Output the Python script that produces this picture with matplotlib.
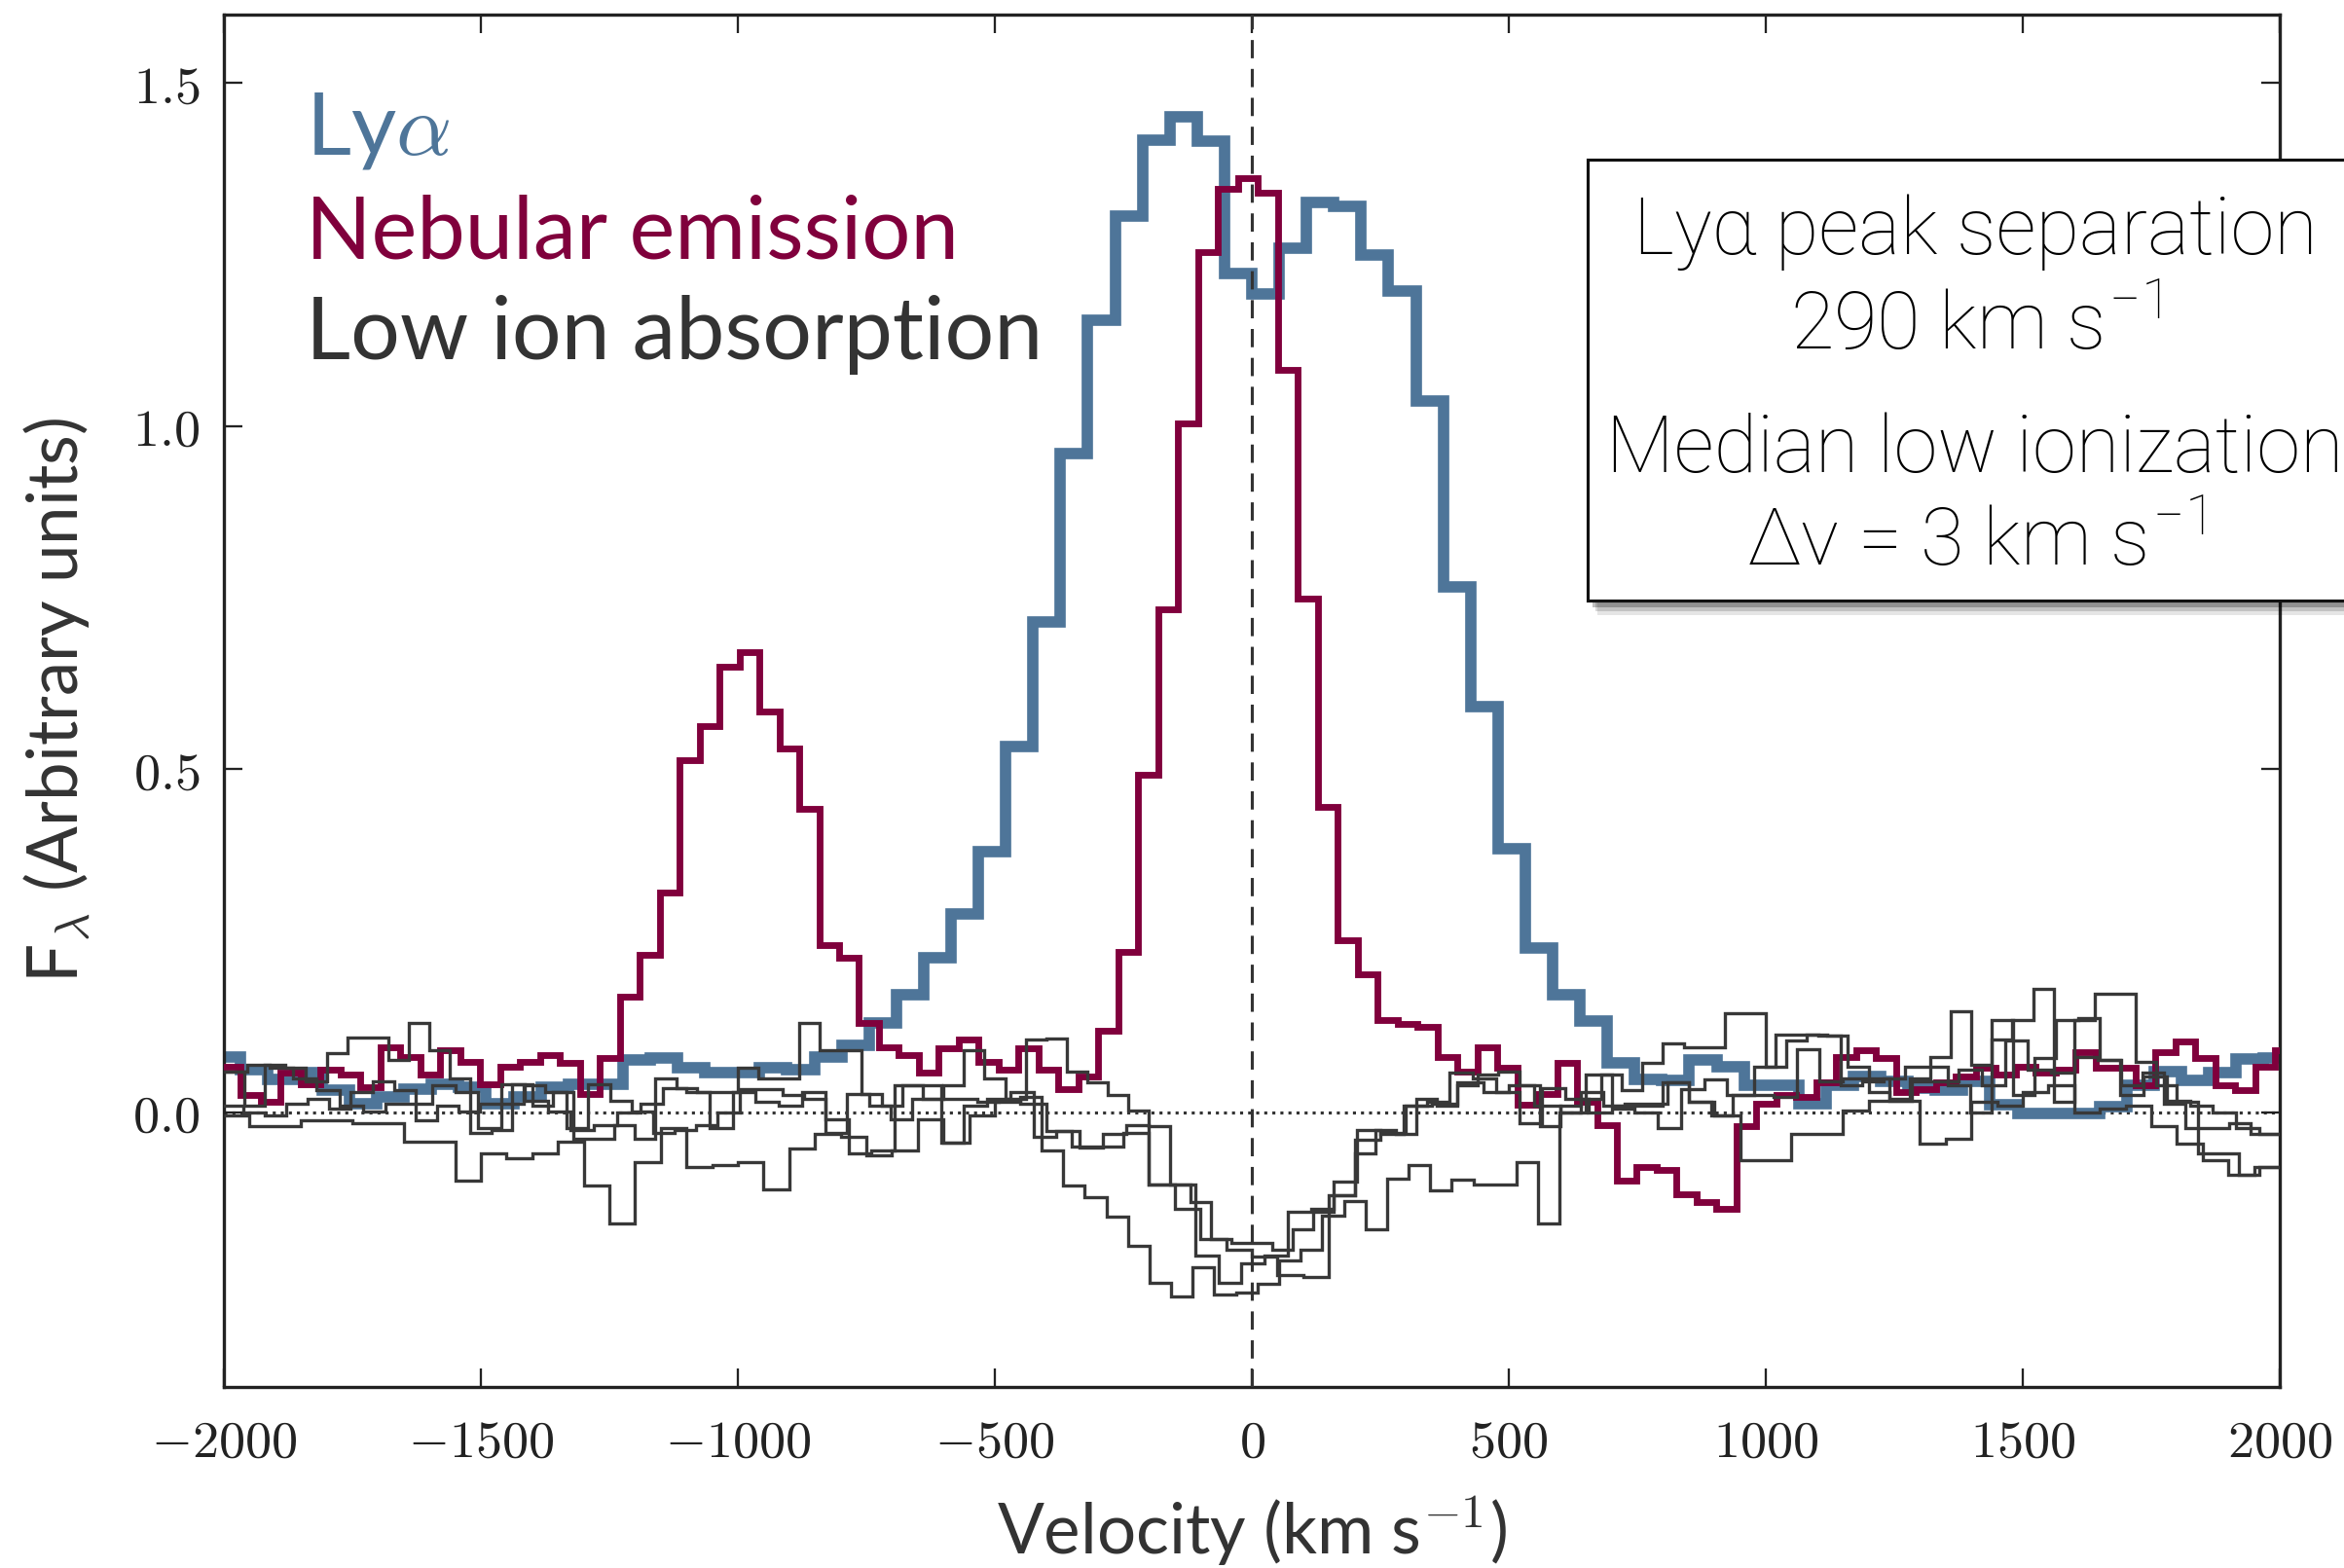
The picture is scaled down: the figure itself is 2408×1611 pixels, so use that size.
import numpy as np
import matplotlib as mat
mat.use('Agg')
import matplotlib.pyplot as plt
from matplotlib.patches import Rectangle
from matplotlib.ticker import FuncFormatter

# Ly-alpha profile (bins of constant width in km/s)
ly_v0, ly_dv = -2021.6, 53.2
ly_flux = [0.081, 0.062, 0.048, 0.058, 0.032, 0.013, 0.023, 0.034, 0.041, 0.037,
           0.013, 0.023, 0.037, 0.041, 0.041, 0.077, 0.080, 0.065, 0.058, 0.058,
           0.065, 0.062, 0.081, 0.098, 0.131, 0.171, 0.226, 0.289, 0.380, 0.533,
           0.715, 0.960, 1.155, 1.306, 1.417, 1.451, 1.415, 1.223, 1.193, 1.259,
           1.326, 1.320, 1.249, 1.197, 1.037, 0.766, 0.591, 0.385, 0.239, 0.171,
           0.133, 0.072, 0.048, 0.047, 0.077, 0.067, 0.039, 0.039, 0.013, 0.040,
           0.053, 0.045, 0.035, 0.032, 0.045, 0.011, -0.001, -0.002, -0.001, 0.009,
           0.039, 0.060, 0.047, 0.058, 0.078, 0.080]

# nebular emission
neb_v0, neb_dv = -2005.8, 38.8
neb_flux = [0.067, 0.025, 0.015, 0.058, 0.041, 0.062, 0.055, 0.037, 0.095, 0.081,
            0.055, 0.091, 0.074, 0.041, 0.067, 0.074, 0.084, 0.072, 0.027, 0.079,
            0.169, 0.230, 0.320, 0.513, 0.563, 0.650, 0.671, 0.584, 0.530, 0.442,
            0.244, 0.225, 0.131, 0.095, 0.084, 0.058, 0.093, 0.107, 0.074, 0.062,
            0.093, 0.062, 0.034, 0.053, 0.119, 0.234, 0.492, 0.733, 1.004, 1.254,
            1.346, 1.362, 1.341, 1.082, 0.749, 0.445, 0.251, 0.202, 0.134, 0.129,
            0.125, 0.081, 0.060, 0.095, 0.065, 0.011, 0.027, 0.072, 0.015, -0.018,
            -0.100, -0.079, -0.084, -0.119, -0.131, -0.140, -0.020, 0.013, 0.025, 0.022,
            0.044, 0.081, 0.091, 0.079, 0.029, 0.034, 0.044, 0.053, 0.065, 0.055,
            0.067, 0.058, 0.062, 0.088, 0.065, 0.065, 0.039, 0.088, 0.103, 0.079,
            0.039, 0.032, 0.067, 0.090]

# low ionization absorption lines
ion1_v0, ion1_dv = -2000.0, 50.0
ion1_flux = [-0.004, -0.020, -0.020, -0.011, -0.011, -0.016, -0.016, -0.042, -0.042, -0.100,
             -0.060, -0.067, -0.060, -0.042, -0.107, -0.162, -0.072, -0.023, -0.079, -0.077,
             -0.072, -0.112, -0.053, -0.032, -0.035, -0.063, -0.056, -0.010, -0.044, -0.005,
             0.015, 0.012, -0.027, -0.050, -0.050, -0.030, -0.105, -0.140, -0.185, -0.200,
             -0.210, -0.237, -0.240, -0.120, -0.040, -0.030, 0.010, 0.012, 0.044, 0.030,
             0.040, 0.010, 0.000, 0.055, 0.010, 0.010, 0.044, 0.015, -0.004, -0.070,
             -0.070, -0.032, -0.032, 0.003, 0.017, 0.017, -0.046, -0.039, 0.015, 0.010,
             0.030, 0.040, 0.000, 0.006, 0.010, -0.020, -0.045, -0.070, -0.091, -0.080]

ion2_v0, ion2_dv = -2005.0, 42.0
ion2_flux = [0.010, 0.000, -0.005, 0.012, 0.020, 0.005, 0.030, 0.045, 0.032, -0.011,
             0.010, 0.001, 0.012, 0.012, 0.039, 0.030, -0.023, 0.041, 0.017, 0.001,
             -0.030, -0.025, -0.018, 0.000, 0.034, 0.034, 0.025, 0.020, -0.030, 0.027,
             0.010, -0.010, 0.020, 0.020, 0.020, 0.015, 0.017, 0.022, -0.055, -0.107,
             -0.124, -0.152, -0.195, -0.249, -0.268, -0.225, -0.266, -0.263, -0.250, -0.215,
             -0.200, -0.150, -0.129, -0.171, -0.096, -0.077, -0.114, -0.098, -0.105, -0.105,
             -0.072, -0.162, 0.000, 0.030, 0.010, 0.013, 0.013, 0.044, 0.015, -0.004,
             0.025, 0.067, 0.114, 0.114, 0.112, 0.040, 0.045, 0.050, 0.067, 0.067,
             0.040, 0.000, 0.135, 0.025, 0.080, 0.135, 0.138, 0.076, 0.039, 0.058,
             0.013, -0.023, -0.023, -0.016, -0.032, -0.032]

ion3_v0, ion3_dv = -2000.0, 45.0
ion3_flux = [0.060, 0.069, 0.065, 0.050, 0.032, 0.010, 0.001, 0.012, 0.012, 0.039,
             0.030, -0.023, 0.041, 0.017, 0.001, -0.025, -0.018, 0.000, 0.012, 0.036,
             0.029, -0.023, 0.030, 0.015, 0.010, 0.030, -0.010, -0.060, -0.056, 0.039,
             0.039, -0.044, 0.010, 0.020, 0.030, -0.035, -0.027, -0.051, -0.032, -0.018,
             -0.105, -0.105, -0.209, -0.249, -0.220, -0.209, -0.145, -0.140, -0.101, -0.025,
             -0.032, 0.010, 0.015, 0.058, 0.050, 0.030, -0.016, 0.036, 0.020, 0.000,
             0.005, 0.000, -0.023, 0.034, 0.048, 0.025, 0.025, 0.022, 0.092, 0.045,
             0.050, 0.050, 0.017, 0.045, 0.045, 0.062, 0.040, 0.105, 0.062, 0.058,
             0.081, 0.076, 0.025, 0.053, 0.017, 0.010, 0.000, -0.023, -0.032]

ion4_v0, ion4_dv = -2000.0, 40.0
ion4_flux = [0.060, 0.010, 0.070, 0.065, 0.045, 0.086, 0.109, 0.109, 0.076, 0.131,
             0.091, 0.050, -0.030, -0.025, 0.041, 0.010, 0.029, -0.039, -0.039, -0.018,
             -0.039, 0.050, 0.036, 0.029, 0.029, 0.065, 0.050, 0.050, 0.131, 0.091,
             0.091, 0.027, 0.010, 0.039, 0.020, 0.039, 0.091, 0.050, 0.020, 0.107,
             0.108, 0.060, 0.044, 0.025, 0.003, -0.020, -0.105, -0.130, -0.185, -0.190,
             -0.190, -0.200, -0.170, -0.145, -0.120, -0.060, -0.025, -0.032, 0.020, 0.010,
             0.040, 0.055, 0.060, 0.040, -0.020, 0.010, 0.020, 0.055, 0.032, 0.072,
             0.100, 0.095, 0.095, 0.145, 0.145, 0.067, 0.105, 0.114, 0.112, 0.067,
             0.030, 0.020, 0.050, 0.081, 0.147, 0.070, 0.107, 0.135, 0.180, 0.015,
             0.135, 0.173, 0.173, 0.073, 0.040, 0.015, -0.060, -0.060, -0.091, -0.080]

absorption = [(ion1_v0, ion1_dv, ion1_flux), (ion2_v0, ion2_dv, ion2_flux),
              (ion3_v0, ion3_dv, ion3_flux), (ion4_v0, ion4_dv, ion4_flux)]

xticks = [-2000, -1500, -1000, -500, 0, 500, 1000, 1500, 2000]
yticks = [0.0, 0.5, 1.0, 1.5]

lya_col = '#4e7599'
neb_col = '#80003c'
ion_col = '#383838'


def edges(v0, dv, flux):
    return v0 + dv * np.arange(len(flux) + 1)


def main():
    plt.rcParams['mathtext.fontset'] = 'cm'
    plt.rcParams['font.family'] = ['Lato', 'DejaVu Sans']

    fig = plt.figure(figsize=(2408 / 150, 1611 / 150), dpi=150)
    ax = fig.add_axes([0.0955, 0.1155, 0.8771, 0.8752])

    ax.stairs(ly_flux, edges(ly_v0, ly_dv, ly_flux), baseline=None,
              color=lya_col, lw=5.6, zorder=2)
    ax.stairs(neb_flux, edges(neb_v0, neb_dv, neb_flux), baseline=None,
              color=neb_col, lw=3.3, zorder=3)
    for v0, dv, flux in absorption:
        ax.stairs(flux, edges(v0, dv, flux), baseline=None,
                  color=ion_col, lw=1.6, zorder=4)

    ax.axvline(0, color='#333333', lw=1.5, dashes=(6, 3.5), zorder=5)
    ax.axhline(0, color='#333333', lw=1.5, ls=':', zorder=1)

    ax.set_xlim(-2000, 2000)
    ax.set_ylim(-0.4, 1.6)
    ax.set_xticks(xticks)
    ax.set_yticks(yticks)
    ax.xaxis.set_major_formatter(FuncFormatter(lambda v, p: '$%d$' % v))
    ax.yaxis.set_major_formatter(FuncFormatter(lambda v, p: '$%.1f$' % v))
    ax.tick_params(direction='in', top=True, right=True, length=9, width=1.1,
                   labelsize=26, colors='#222222')
    ax.tick_params(axis='x', pad=15)
    ax.tick_params(axis='y', pad=12)
    for s in ax.spines.values():
        s.set_linewidth(1.6)
        s.set_color('#222222')

    ax.set_xlabel('Velocity (km s$^{-1}$)', fontsize=34, color='#333333', labelpad=14)
    ax.set_ylabel(r'F$_\lambda$ (Arbitrary units)', fontsize=34, color='#333333', labelpad=20)

    # coloured legend text
    ax.text(0.04, 0.898, r'Ly$\alpha$', transform=ax.transAxes, fontsize=43,
            color=lya_col, va='baseline')
    ax.text(0.04, 0.822, 'Nebular emission', transform=ax.transAxes, fontsize=42.5,
            color=neb_col, va='baseline')
    ax.text(0.04, 0.749, 'Low ion absorption', transform=ax.transAxes, fontsize=43,
            color='#333333', va='baseline')

    # annotation box with shadow, sticking out past the right edge
    bx, by, bw, bh = 0.6773, 0.617, 0.36, 0.281
    for off, a in [(0.006, 0.10), (0.0045, 0.15), (0.003, 0.25)]:
        fig.patches.append(Rectangle((bx + off * 0.7, by - off * 1.5), bw, bh,
                                     transform=fig.transFigure, facecolor='#000000',
                                     edgecolor='none', alpha=a, zorder=8))
    fig.patches.append(Rectangle((bx, by), bw, bh, transform=fig.transFigure,
                                 facecolor='white', edgecolor='#111111', lw=1.5, zorder=9))
    box_lines = ['Lyα peak separation', '290 km s$^{\\mathregular{-1}}$',
                 'Median low ionization', 'Δv = 3 km s$^{\\mathregular{-1}}$']
    box_y = [0.852, 0.791, 0.713, 0.653]
    for t, y in zip(box_lines, box_y):
        fig.text(0.8426, y, t, ha='center', va='center', fontsize=39,
                 family=['Roboto', 'DejaVu Sans'], fontweight='light',
                 color='black', zorder=10)

    fig.savefig('out.png', dpi=150)


if __name__ == '__main__':
    main()
